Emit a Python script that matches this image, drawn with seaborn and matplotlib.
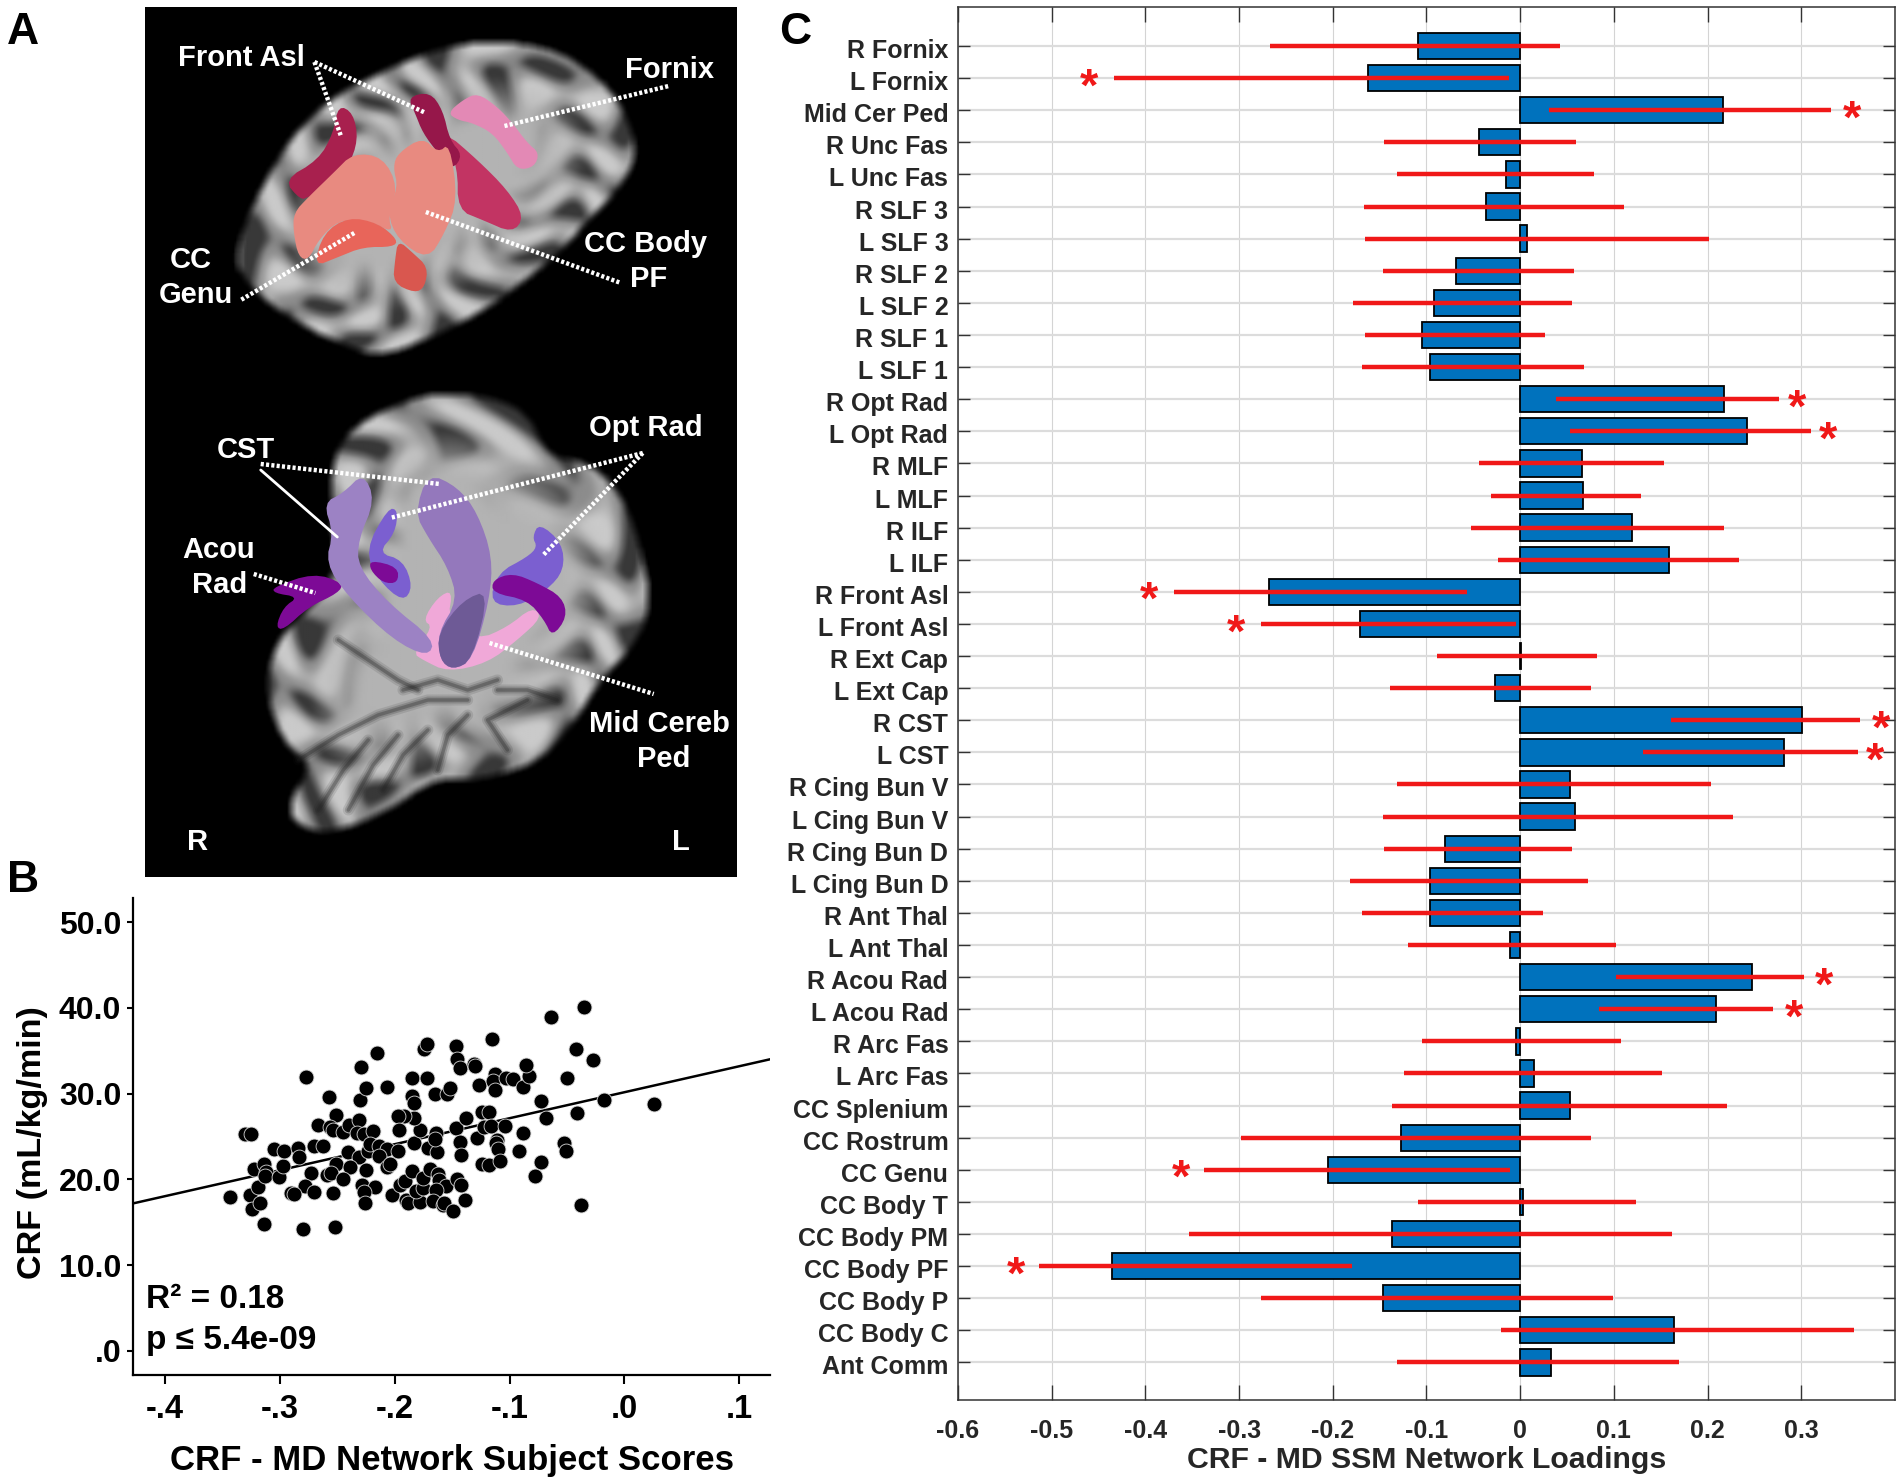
import numpy as np
import pandas as pd
import matplotlib
matplotlib.use("Agg")
import matplotlib.pyplot as plt
import matplotlib.transforms as mtrans
from matplotlib.path import Path
import seaborn as sns

# ─── DATA: PANEL C ──────────────────────────────────────
tracts = ["R Fornix", "L Fornix", "Mid Cer Ped", "R Unc Fas", "L Unc Fas", "R SLF 3", "L SLF 3",
          "R SLF 2", "L SLF 2", "R SLF 1", "L SLF 1", "R Opt Rad", "L Opt Rad", "R MLF", "L MLF",
          "R ILF", "L ILF", "R Front Asl", "L Front Asl", "R Ext Cap", "L Ext Cap", "R CST", "L CST",
          "R Cing Bun V", "L Cing Bun V", "R Cing Bun D", "L Cing Bun D", "R Ant Thal", "L Ant Thal",
          "R Acou Rad", "L Acou Rad", "R Arc Fas", "L Arc Fas", "CC Splenium", "CC Rostrum", "CC Genu",
          "CC Body T", "CC Body PM", "CC Body PF", "CC Body P", "CC Body C", "Ant Comm"]
loadings = [-0.109, -0.162, 0.216, -0.044, -0.015, -0.037, 0.007, -0.069, -0.092, -0.105, -0.096,
            0.218, 0.242, 0.066, 0.067, 0.119, 0.159, -0.268, -0.171, 0.001, -0.027, 0.301, 0.282,
            0.053, 0.058, -0.080, -0.096, -0.096, -0.011, 0.247, 0.209, -0.005, 0.015, 0.053,
            -0.127, -0.205, 0.003, -0.137, -0.436, -0.146, 0.164, 0.033]
ci_low = [-0.267, -0.434, 0.031, -0.145, -0.132, -0.167, -0.166, -0.146, -0.178, -0.166, -0.169,
          0.038, 0.053, -0.044, -0.031, -0.053, -0.024, -0.370, -0.277, -0.089, -0.139, 0.161, 0.131,
          -0.131, -0.146, -0.145, -0.182, -0.169, -0.120, 0.102, 0.084, -0.105, -0.124, -0.137,
          -0.298, -0.337, -0.109, -0.353, -0.514, -0.277, -0.021, -0.131]
ci_high = [0.042, -0.012, 0.332, 0.060, 0.079, 0.111, 0.201, 0.057, 0.055, 0.027, 0.068,
           0.276, 0.310, 0.153, 0.129, 0.217, 0.234, -0.057, -0.005, 0.082, 0.076, 0.363, 0.360,
           0.204, 0.227, 0.055, 0.072, 0.024, 0.102, 0.303, 0.270, 0.108, 0.151, 0.221,
           0.076, -0.011, 0.124, 0.162, -0.179, 0.099, 0.356, 0.170]
star_tracts = ["L Fornix", "Mid Cer Ped", "R Opt Rad", "L Opt Rad", "R Front Asl", "L Front Asl", "R CST",
               "L CST", "R Acou Rad", "L Acou Rad", "CC Genu", "CC Body PF"]
star_x = [-0.460, 0.354, 0.296, 0.329, -0.396, -0.303, 0.385, 0.379, 0.324, 0.292, -0.362, -0.538]
c_ticks = [-0.6, -0.5, -0.4, -0.3, -0.2, -0.1, 0, 0.1, 0.2, 0.3]
c_ticklabels = ["-0.6", "-0.5", "-0.4", "-0.3", "-0.2", "-0.1", "0", "0.1", "0.2", "0.3"]

# ─── DATA: PANEL B ──────────────────────────────────────
scores = [-0.343, -0.326, -0.324, -0.317, -0.314, -0.319, -0.322, -0.314, -0.312, -0.313, -0.301, -0.297,
          -0.305, -0.296, -0.284, -0.283, -0.270, -0.262, -0.273, -0.278, -0.290, -0.288, -0.270, -0.254,
          -0.280, -0.252, -0.330, -0.325, -0.277, -0.257, -0.267, -0.251, -0.256, -0.254, -0.245, -0.240,
          -0.231, -0.233, -0.227, -0.219, -0.241, -0.231, -0.251, -0.239, -0.259, -0.255, -0.245, -0.225,
          -0.228, -0.217, -0.227, -0.226, -0.223, -0.221, -0.214, -0.207, -0.214, -0.207, -0.204, -0.197,
          -0.202, -0.195, -0.191, -0.185, -0.190, -0.188, -0.178, -0.181, -0.175, -0.175, -0.169, -0.162,
          -0.161, -0.155, -0.164, -0.167, -0.158, -0.157, -0.149, -0.139, -0.146, -0.142, -0.183, -0.171,
          -0.163, -0.164, -0.165, -0.178, -0.183, -0.192, -0.197, -0.196, -0.230, -0.225, -0.229, -0.215,
          -0.207, -0.185, -0.172, -0.185, -0.183, -0.174, -0.172, -0.165, -0.154, -0.152, -0.147, -0.146,
          -0.143, -0.131, -0.130, -0.127, -0.147, -0.143, -0.142, -0.138, -0.128, -0.124, -0.118, -0.124,
          -0.118, -0.122, -0.116, -0.111, -0.112, -0.110, -0.108, -0.104, -0.088, -0.092, -0.113, -0.114,
          -0.113, -0.103, -0.097, -0.088, -0.083, -0.086, -0.115, -0.073, -0.068, -0.041, -0.050, -0.042,
          -0.027, -0.064, -0.035, -0.018, -0.053, -0.051, -0.073, -0.078, -0.038, 0.026]
crf = [18.0, 18.2, 16.5, 17.2, 14.8, 19.1, 21.2, 21.8, 20.9, 20.4, 20.3, 21.6,
       23.5, 23.3, 23.7, 22.6, 23.9, 23.9, 20.8, 19.2, 18.4, 18.3, 18.5, 18.4,
       14.2, 14.5, 25.3, 25.3, 31.9, 29.6, 26.3, 27.5, 26.1, 25.8, 25.5, 26.3,
       26.9, 25.4, 25.3, 25.6, 23.2, 22.6, 21.8, 21.4, 20.5, 20.7, 20.0, 21.1,
       19.4, 19.1, 18.5, 17.3, 23.3, 24.1, 23.9, 23.5, 22.7, 21.4, 21.8, 23.3,
       18.2, 19.4, 19.8, 21.0, 17.6, 17.2, 17.4, 18.7, 19.0, 20.2, 21.2, 20.6,
       19.9, 19.2, 18.8, 17.5, 17.0, 17.2, 16.3, 17.6, 20.1, 19.4, 24.3, 23.7,
       23.2, 25.4, 24.7, 25.7, 27.2, 27.4, 27.4, 25.8, 29.3, 30.6, 33.1, 34.7,
       30.8, 31.8, 31.8, 29.7, 28.9, 35.2, 35.8, 29.9, 29.9, 30.7, 35.6, 34.0,
       33.0, 33.4, 33.2, 31.0, 26.0, 24.4, 22.9, 27.2, 24.8, 21.8, 21.7, 27.9,
       27.8, 26.1, 26.2, 24.6, 24.3, 23.6, 22.1, 26.2, 25.4, 23.3, 32.3, 31.5,
       30.4, 31.8, 31.7, 30.8, 32.1, 33.3, 36.4, 29.1, 27.2, 27.7, 31.8, 35.2,
       33.9, 38.9, 40.1, 29.3, 24.2, 23.3, 22.0, 20.4, 17.0, 28.8]
fit_x = [-0.4277, 0.1267]
fit_y = [17.2, 34.0]
b_xticks = [-0.4, -0.3, -0.2, -0.1, 0.0, 0.1]
b_xticklabels = ["-.4", "-.3", "-.2", "-.1", ".0", ".1"]
b_yticks = [0, 10, 20, 30, 40, 50]
b_yticklabels = [".0", "10.0", "20.0", "30.0", "40.0", "50.0"]

# ─── DATA: PANEL A (drawn sketch of the brain render) ───
brain_top = [(480,40),(530,43),(565,53),(595,72),(620,97),(635,130),(640,157),(620,190),(590,220),(560,253),
             (530,277),(490,307),(440,333),(380,357),(340,340),(320,333),(270,303),(245,277),(235,257),(250,213),
             (270,173),(300,127),(340,93),(380,73),(425,53)]
brain_low = [(420,393),(480,393),(530,410),(550,457),(590,460),(625,493),(645,550),(655,607),(635,647),(600,683),
             (580,717),(540,763),(475,780),(435,777),(390,810),(330,833),(295,823),(290,800),(315,763),(285,743),
             (265,687),(280,633),(340,583),(330,500),(340,433)]
clefts = [
    [(300,760),(340,735),(380,715),(430,700),(470,700)], [(320,810),(345,770),(370,740)],
    [(350,810),(375,765),(400,735)], [(385,790),(405,755),(430,730)], [(440,770),(450,735),(470,715)],
    [(510,750),(490,720),(530,700)], [(560,700),(530,690),(500,690)], [(340,640),(370,660),(400,680),(420,690)],
    [(405,690),(440,680),(470,690),(500,680)],
]
shapes = [
    ("#e389b5", [(450,113),(465,100),(480,93),(500,107),(515,123),(530,143),(542,153),(537,167),(520,170),(510,153),(495,133),(475,123),(460,120)]),
    ("#a8204e", [(340,105),(355,113),(360,140),(350,167),(335,187),(310,197),(302,200),(285,180),(320,160),(335,133)]),
    ("#c23463", [(445,130),(480,160),(510,190),(527,217),(515,233),(485,220),(460,210),(460,167)]),
    ("#96174a", [(410,97),(432,92),(445,110),(452,140),(465,155),(455,170),(440,153),(425,133),(417,113)]),
    ("#e88a80", [(295,213),(310,197),(335,173),(355,153),(385,157),(400,187),(390,217),(395,233),(370,220),(340,220),(320,240),(310,260),(300,257),(295,233)]),
    ("#e88a80", [(400,153),(425,137),(440,153),(452,143),(460,200),(447,233),(430,260),(400,240),(389,213),(400,187),(395,167)]),
    ("#e8655a", [(315,267),(325,233),(350,217),(380,223),(400,240),(395,247),(365,247),(340,257)]),
    ("#d9574f", [(400,240),(415,253),(430,267),(427,287),(417,293),(395,283),(397,260)]),
    ("#f0a8d8", [(415,653),(435,627),(425,620),(440,597),(455,590),(450,620),(480,640),(510,627),(535,607),(545,617),(520,640),(490,663),(450,672),(425,660)]),
    ("#7b5fd0", [(390,508),(400,510),(397,533),(380,553),(405,560),(415,587),(405,602),(380,580),(367,550)]),
    ("#7b5fd0", [(542,523),(565,543),(567,570),(550,590),(520,607),(492,603),(500,573),(530,557),(540,547),(535,537)]),
    ("#7d0a96", [(275,587),(315,573),(345,583),(340,593),(310,607),(285,630),(277,627),(285,607),(300,597),(275,593)]),
    ("#7d0a96", [(372,560),(400,567),(400,583),(385,583),(372,570)]),
    ("#7d0a96", [(495,580),(515,573),(540,583),(565,597),(570,617),(555,637),(547,620),(530,600),(495,593)]),
    ("#9c82c4", [(325,503),(345,493),(365,473),(377,500),(360,540),(360,567),(390,603),(437,640),(430,657),(395,640),(350,597),(327,563),(335,533)]),
    ("#9478bc", [(430,473),(460,487),(480,513),(495,557),(492,600),(475,660),(455,670),(442,660),(440,633),(460,600),(450,567),(430,537),(417,513)]),
    ("#6e5a96", [(465,600),(492,590),(475,660),(455,670),(442,660),(440,633)]),
]
leaders = [
    [(316,62),(343,137)], [(316,62),(428,113)], [(507,126),(672,86)], [(428,212),(624,283)], [(356,233),(242,300)],
    [(262,464),(442,484)], [(646,453),(392,518)], [(646,453),(546,555)], [(255,574),(317,593)], [(492,643),(657,694)],
]
solid_leader = [(262,470),(339,537)]
pic_labels = [("Front Asl",243,58), ("Fornix",673,70), ("CC Body",649,244), ("PF",652,279), ("CC",192,260),
              ("Genu",197,295), ("Opt Rad",649,428), ("CST",247,450), ("Acou",220,550), ("Rad",221,585),
              ("Mid Cereb",663,724), ("Ped",667,759), ("R",199,842), ("L",684,842)]

# ─── HELPERS ────────────────────────────────────────────
W, H = 1902, 1484
PIC_X = (146, 740.5)
PIC_Y = (7, 877)

def px_axes(fig, left, top, right, bottom):
    return fig.add_axes([left / W, 1 - bottom / H, (right - left) / W, (bottom - top) / H])

def smooth(pts, rounds=3):
    pts = np.array(pts, dtype=float)
    for _ in range(rounds):
        nxt = np.roll(pts, -1, axis=0)
        pts = np.column_stack([0.75 * pts + 0.25 * nxt, 0.25 * pts + 0.75 * nxt]).reshape(-1, 2)
    return pts

def box_blur(img, k):
    kernel = np.ones(k) / k
    out = np.apply_along_axis(np.convolve, 0, img, kernel, mode="same")
    return np.apply_along_axis(np.convolve, 1, out, kernel, mode="same")

def brain_layer(outline, xx, yy, folds):
    # gray MRI look: bright core, folded cortex near the edge, soft outline
    outline = smooth(outline)
    inside = Path(outline).contains_points(np.column_stack([xx.ravel(), yy.ravel()])).reshape(xx.shape).astype(float)
    depth = np.clip((box_blur(inside, 81) - 0.5) * 2, 0, 1)
    ring = np.clip((0.95 - depth) / 0.6, 0, 1)
    cx, cy = outline.mean(axis=0)
    theta = np.arctan2(yy - cy, xx - cx)
    rho = np.hypot(xx - cx, yy - cy)
    wave = np.sin(folds * theta + 2.2 * np.sin(rho / 17) + 1.5 * np.sin(3 * theta)) + 0.5 * np.sin(rho / 8 + 4 * theta)
    cortex = 0.55 + 0.24 * np.clip(wave, 0, 1) - 0.33 * np.clip((-0.45 - wave) / 0.4, 0, 1)
    gray = 0.70 * (1 - ring) + cortex * ring
    return box_blur(gray * inside, 5)

# ─── FIGURE ─────────────────────────────────────────────
sns.set_theme(style="white")
plt.rcParams["font.family"] = ["Liberation Sans", "DejaVu Sans"]
plt.rcParams["font.weight"] = "bold"
plt.rcParams["axes.labelweight"] = "bold"
fig = plt.figure(figsize=(W / 100, H / 100), dpi=100, facecolor="white")

# ─── PANEL A ────────────────────────────────────────────
ax_a = px_axes(fig, 145.3, 7, 736.8, 877)
ax_a.set_facecolor("black")
yy, xx = np.mgrid[PIC_Y[0]:PIC_Y[1]:2, PIC_X[0]:PIC_X[1]:2]
mri = np.maximum(brain_layer(brain_top, xx, yy, 15), brain_layer(brain_low, xx, yy, 13))
ax_a.imshow(mri, cmap="gray", vmin=0, vmax=1, extent=[PIC_X[0], PIC_X[1], PIC_Y[1], PIC_Y[0]],
            aspect="auto", interpolation="bilinear", zorder=0)
for line in clefts:
    xs, ys = zip(*line)
    for lw, alpha in [(8, 0.12), (5, 0.2), (2.5, 0.3)]:
        ax_a.plot(xs, ys, color="#202020", lw=lw, alpha=alpha, solid_capstyle="round")
for color, pts in shapes:
    ax_a.fill(*smooth(pts, 2).T, color=color, lw=0)
for seg in leaders:
    xs, ys = zip(*seg)
    ax_a.plot(xs, ys, color="white", lw=3.2, ls=(0, (0.7, 0.5)))
ax_a.plot(*zip(*solid_leader), color="white", lw=2)
for label, x, y in pic_labels:
    ax_a.text(x, y, label, color="white", fontsize=21, ha="center", va="center")
ax_a.set_xlim(*PIC_X)
ax_a.set_ylim(PIC_Y[1], PIC_Y[0])
ax_a.set_xticks([])
ax_a.set_yticks([])
sns.despine(ax=ax_a, left=True, bottom=True)

# ─── PANEL B ────────────────────────────────────────────
ax_b = px_axes(fig, 133, 898, 770, 1375)
df_b = pd.DataFrame({"score": scores, "crf": crf})
sns.scatterplot(data=df_b, x="score", y="crf", color="black", s=115, edgecolor="#d8d8d8", linewidth=0.6,
                ax=ax_b, zorder=3, clip_on=False)
ax_b.plot(fit_x, fit_y, color="black", lw=1.8, zorder=2)
ax_b.set_xlim(-0.4277, 0.1267)
ax_b.set_ylim(-2.8, 52.8)
ax_b.set_xticks(b_xticks, b_xticklabels, fontsize=23.5)
ax_b.set_yticks(b_yticks, b_yticklabels, fontsize=23)
ax_b.tick_params(axis="x", length=6.5, width=1.5, bottom=True, pad=7, color="black", labelcolor="black")
ax_b.tick_params(axis="y", length=4.5, width=1.5, left=True, pad=4, color="black", labelcolor="black")
sns.despine(ax=ax_b)
for side in ["left", "bottom"]:
    ax_b.spines[side].set_linewidth(1.6)
    ax_b.spines[side].set_color("black")
ax_b.set_xlabel("CRF - MD Network Subject Scores", fontsize=25, color="black", labelpad=14)
ax_b.set_ylabel("CRF (mL/kg/min)", fontsize=24.6, color="black")
ax_b.yaxis.set_label_coords(-0.134, 0.488)
ax_b.text(146 / W, 1 - 1300 / H, "R² = 0.18", transform=fig.transFigure, fontsize=24, va="center", color="black")
ax_b.text(146 / W, 1 - 1340 / H, "p ≤ 5.4e-09", transform=fig.transFigure, fontsize=24, va="center", color="black")

# ─── PANEL C ────────────────────────────────────────────
ax_c = px_axes(fig, 958, 7, 1895, 1400)
df_c = pd.DataFrame({"tract": tracts, "loading": loadings})
sns.barplot(data=df_c, x="loading", y="tract", orient="h", color="#0072BD", saturation=1, width=0.82,
            edgecolor="black", linewidth=1.3, ax=ax_c, zorder=2)
ax_c.hlines(range(len(tracts)), ci_low, ci_high, color="#f01818", lw=3.2, zorder=4)
for name, sx in zip(star_tracts, star_x):
    ax_c.text(sx, tracts.index(name) + 0.32, "*", color="#f01818", fontsize=34, ha="center", va="center",
              zorder=5, clip_on=False)
ax_c.set_xlim(-0.6, 0.4)
ax_c.set_ylim(42.17, -1.215)
ax_c.set_xticks(c_ticks, c_ticklabels, fontsize=18)
ax_c.set_axisbelow(True)
ax_c.grid(axis="x", color="#d4d4d4", lw=0.8)
ax_c.grid(axis="y", color="#dcdcdc", lw=1.6)
ax_c.tick_params(axis="x", which="both", direction="in", length=11, width=1, top=True, bottom=True, pad=14,
                 color="#333333", labelcolor="#262626")
ax_c.tick_params(axis="y", which="both", direction="in", length=8.5, width=1, left=True, right=True, pad=7,
                 color="#333333", labelcolor="#262626", labelsize=18)
label_shift = mtrans.ScaledTranslation(0, -2.5 / 100, fig.dpi_scale_trans)
for tick_label in ax_c.get_yticklabels():
    tick_label.set_transform(tick_label.get_transform() + label_shift)
for spine in ax_c.spines.values():
    spine.set_visible(True)
    spine.set_linewidth(1.1)
    spine.set_color("#333333")
ax_c.set_xlabel("CRF - MD SSM Network Loadings", fontsize=21.8, color="#262626", labelpad=2)
ax_c.set_ylabel("")

# ─── PANEL LETTERS ──────────────────────────────────────
for letter, x, y in [("A", 23, 33), ("B", 23, 880), ("C", 795, 32)]:
    fig.text(x / W, 1 - y / H, letter, fontsize=32, ha="center", va="center", color="black")

fig.savefig("out.png", dpi=100)
